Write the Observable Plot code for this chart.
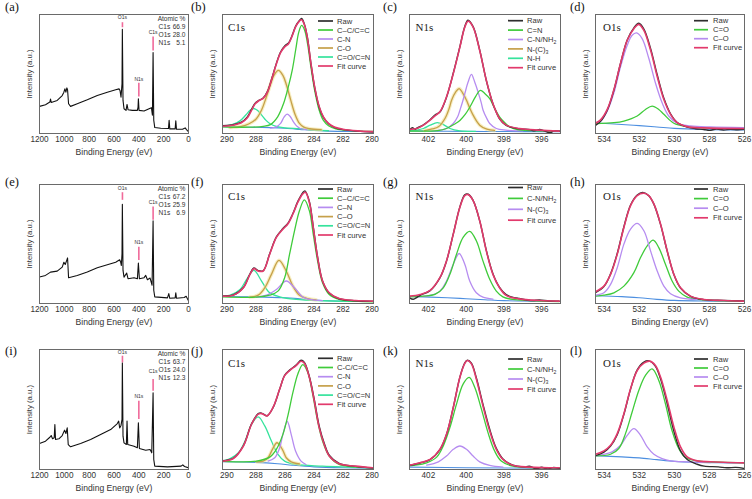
<!DOCTYPE html>
<html><head><meta charset="utf-8">
<script src="https://cdn.jsdelivr.net/npm/d3@7"></script>
<script src="https://cdn.jsdelivr.net/npm/@observablehq/plot@0.6"></script>
<style>
body{margin:0;background:#fff;}
#fig{position:relative;width:752px;height:499px;overflow:hidden;background:#fff;}
#fig svg{position:absolute;overflow:visible;}
</style></head><body><div id="fig"></div>
<script>
// ---------- tick labels ----------
const surveyTicks = [1200, 1000, 800, 600, 400, 200, 0];
const c1sTicks = [290, 288, 286, 284, 282, 280];
const n1sTicks = [402, 400, 398, 396];
const o1sTicks = [534, 532, 530, 528, 526];

// ---------- survey spectra [binding energy, intensity] ----------
const a_survey = [[1200,22.8],[1151.6,24.2],[1116.6,26.4],[1111.2,28.9],[1105.8,26.1],[1057.4,27.8],[1017,31.9],[1003.6,34.7],[995.5,37.5],[987.4,34.7],[979.4,38.3],[974,36.7],[965.9,25],[949.8,22.8],[895.9,25],[815.2,28.3],[734.5,31.9],[653.8,34.7],[586.5,36.7],[559.6,37.5],[551.6,36.1],[543.5,30.6],[535.4,41.7],[532.7,87.5],[527.4,27.8],[519.3,20.8],[503.1,19.4],[495,24.4],[487,20],[452,19.4],[411.7,19.4],[406.3,22.2],[403.6,29.2],[398.3,19.4],[357.8,18.9],[317.5,20.8],[298.6,21.7],[290.6,15.3],[285.2,68.1],[279.8,11.1],[271.7,5],[223.3,4.4],[161.4,4.2],[156,11.1],[150.7,3.9],[107.6,3.9],[102.3,10.6],[96.8,3.6],[48.4,3.6],[27,4.7],[16.1,3.3],[0,1.4]];
const e_survey = [[1200,22.2],[1151.6,23.6],[1111.2,26.4],[1057.4,27.2],[1017,30.6],[1003.6,34.7],[992.8,32.8],[979.4,36.7],[974,38.3],[965.9,21.7],[895.9,23.6],[815.2,26.4],[734.5,30],[653.8,32.5],[586.5,34.7],[554.3,36.7],[546.2,34.7],[540.8,31.9],[535.4,41.7],[532.7,83.3],[527.4,27.8],[519.3,22.2],[497.8,25.6],[487,20.8],[438.6,21.7],[411.7,20.8],[403.6,33.9],[395.6,20.8],[357.8,21.7],[344.4,23.6],[330.9,20],[309.4,21.4],[293.3,15.3],[285.2,69.4],[279.8,11.1],[271.7,5.6],[169.5,4.7],[158.7,8.3],[150.7,4.4],[107.6,4.7],[102.3,8.9],[96.8,4.4],[35,5],[18.8,6.1],[0,2.2]];
const i_survey = [[1200,21.7],[1151.6,23.6],[1116.6,26.9],[1105.8,28.3],[1095,25.6],[1081.6,26.4],[1076.2,37.5],[1070.8,25],[1043.9,25.6],[1017,28.3],[998.2,32.8],[987.4,30],[976.7,34.7],[968.6,20.8],[949.8,18.9],[869.1,21.7],[788.3,25],[707.6,29.2],[626.9,33.3],[573.1,38.3],[562.3,40.3],[554.3,34.7],[543.5,36.7],[535.4,41.7],[532.7,88.9],[527.4,27.8],[519.3,22.2],[500.4,20.8],[495,40.3],[489.7,20.8],[438.6,19.4],[411.7,18.1],[403.6,38.9],[395.6,17.5],[344.4,16.1],[309.4,16.7],[295.9,13.9],[285.2,63.9],[279.8,8.3],[271.7,2.8],[169.5,2.2],[59.4,2.8],[45.9,3.9],[32.4,2.5],[0,1.4]];

// survey peak markers: name, energy, marker bottom, marker top, label height
const a_markers = [["O1s",532,88.9,93.1,97.8],["C1s",285,69.4,81.1,84.7],["N1s",400,30.6,42.2,45.8]];
const e_markers = [["O1s",532,86.7,93.1,96.5],["C1s",285,70,81.1,84.7],["N1s",400,36.1,47.2,51.4]];
const i_markers = [["O1s",532,88.9,94.4,98],["C1s",285,65.3,75,81.9],["N1s",400,41.7,56.9,61.1]];

// atomic composition
const a_atomic = [["C1s","66.9"],["O1s","28.0"],["N1s","5.1"]];
const e_atomic = [["C1s","67.2"],["O1s","25.9"],["N1s","6.9"]];
const i_atomic = [["C1s","63.7"],["O1s","24.0"],["N1s","12.3"]];

// ---------- (b) C1s ----------
const b_base = [[290.3,5.8],[288.5,5.3],[287,4.9],[286,4.4],[285,3.5],[284,2.5],[283,2],[281,1.7],[279.9,1.6]];
const b_cc = [[290.3,5.5],[288.5,5.3],[287.5,6],[287,7.5],[286.5,14],[286.1,25],[285.75,40],[285.5,53],[285.25,71],[285.05,85],[284.85,90.8],[284.65,87],[284.45,76],[284.2,55],[283.95,36],[283.65,20],[283.35,11],[283,6.5],[282.5,3.8],[281.5,2.4],[279.9,1.7]];
const b_cn = [[287,4.6],[286.6,5.6],[286.3,8.5],[286.05,14],[285.85,16.2],[285.65,14.5],[285.4,9.5],[285.15,5.8],[284.9,4],[284.5,3.3]];
const b_co = [[289.8,5],[289,6],[288.5,8],[288,12],[287.6,20],[287.3,30],[287,41],[286.75,49],[286.45,53],[286.15,49],[285.9,41],[285.6,28],[285.3,16],[285,8.5],[284.7,5.3],[284.3,4],[283.5,3.2]];
const b_coo = [[290.3,6],[289.6,7.6],[289.1,10.6],[288.7,15.5],[288.4,19.5],[288.15,21],[287.9,19.5],[287.6,15.5],[287.3,11],[287,8],[286.6,6],[286,4.8],[285,4],[284,3],[283,2.3]];
const b_raw = [[290.3,6.6],[289.8,7],[289.5,7.6],[289,9.5],[288.6,13.8],[288.3,20.2],[288.05,25.5],[287.8,27.8],[287.5,29.8],[287.2,35.5],[286.9,46.5],[286.6,58.5],[286.3,68.5],[286,73.8],[285.75,76],[285.5,82.5],[285.25,90.5],[285,95],[284.85,96.6],[284.65,91.5],[284.45,80.5],[284.2,58],[283.95,38.5],[283.65,22.5],[283.35,13.5],[283,8.2],[282.6,5.2],[282,3.3],[281,2],[279.9,1.3]];
const b_fit = [[290.3,6.1],[289.5,7.2],[289,9],[288.6,13],[288.3,19.5],[288.05,25],[287.8,27.5],[287.5,29.5],[287.2,35],[286.9,46],[286.6,58],[286.3,68],[286,73],[285.75,75.5],[285.5,82],[285.25,90],[285,94.5],[284.85,95.5],[284.65,91],[284.45,80],[284.2,58],[283.95,39],[283.65,23],[283.35,14],[283,8.5],[282.6,5.5],[282,3.6],[281,2.2],[279.9,1.6]];

// ---------- (c) N1s ----------
const c_base = [[403,2.2],[401,1.9],[399,1.7],[397,1.6],[395,1.5]];
const c_cn = [[403,2],[401.5,2.5],[401.04,4.2],[400.6,8],[400.33,11],[400.05,16],[399.8,22.3],[399.5,31],[399.25,36.3],[399,33.5],[398.75,29.3],[398.5,21.5],[398.23,14],[397.95,9],[397.7,5.6],[397.3,3.3],[396.5,2.4],[395,2]];
const c_cnh = [[401.6,2.5],[401.04,4.2],[400.68,8.4],[400.45,14],[400.33,19.6],[400.2,26],[400.07,33.5],[399.9,43],[399.72,49.7],[399.55,43.5],[399.37,35],[399.2,26],[399.1,19.6],[398.9,12.5],[398.75,8.4],[398.4,4.2],[397.9,2.8],[397,2.2]];
const c_nc3 = [[402.2,2.5],[401.8,3.8],[401.47,5.6],[401.12,12.6],[400.9,21],[400.77,28],[400.55,35],[400.37,37.7],[400.18,34],[399.98,28],[399.8,21],[399.63,15.4],[399.28,7],[398.9,3.6],[398.5,2.6]];
const c_nh = [[403,2.4],[402.6,2.9],[402.26,4.2],[401.9,7],[401.53,9.2],[401.2,7.5],[400.86,4.2],[400.33,2.2],[399.5,1.8]];
const c_raw = [[403,2.9],[402.85,4.8],[402.7,3.6],[402.61,4.5],[402.26,7.3],[401.91,11.5],[401.65,15.5],[401.39,18],[401.04,30.5],[400.68,50.8],[400.33,73],[400.07,90],[399.9,95.2],[399.63,89.8],[399.28,70],[398.93,44.5],[398.58,25],[398.23,12.4],[397.88,6.8],[397.18,3.9],[396.6,3.3],[396.4,2.2],[396.1,3.5],[395.9,2.4],[395.55,0.6],[395.35,2.2],[395,1.8]];
const c_fit = [[403,3.4],[402.61,4.2],[402.26,7],[401.91,11.2],[401.65,14.8],[401.39,18.2],[401.04,30.7],[400.68,50.3],[400.33,72.6],[400.07,89.4],[399.89,94.4],[399.63,89.4],[399.28,69.8],[398.93,44.7],[398.58,25.1],[398.23,12.6],[397.88,7],[397.18,4.2],[396.12,2.8],[395.07,2]];

// ---------- (d) O1s ----------
const d_base = [[534.5,8.8],[533,7.6],[532,6.6],[531,5.5],[530,4.3],[528.5,3.4],[526,3]];
const d_coo = [[534.5,8.3],[533.45,9.1],[532.88,10.5],[532.12,14.7],[531.65,20.2],[531.27,23],[530.89,20.2],[530.6,16.1],[530.03,8.6],[529.27,5.8],[528.32,4.7],[526,4.2]];
const d_co = [[534.5,9.1],[534.21,10.5],[533.83,18.8],[533.45,34.1],[533.07,56.2],[532.69,74.2],[532.41,82.5],[532.16,84.5],[531.84,79.8],[531.46,63.2],[531.08,42.4],[530.7,25.8],[530.32,14.7],[529.84,8.6],[529.08,6.4],[527.94,5.5],[526,5]];
const d_raw = [[534.5,6.9],[534.21,10.2],[533.83,19.6],[533.45,36.5],[533.07,59],[532.69,78.6],[532.31,88.8],[532.03,92.6],[531.74,87.8],[531.36,71.5],[530.98,49.4],[530.6,29.6],[530.22,16.6],[529.84,9.3],[529.27,5.4],[528.8,4],[528.32,3.4],[528,2.6],[527.6,3.8],[527.2,3],[526.8,3.6],[526.4,3.1],[526,3.5]];
const d_fit = [[534.5,8.6],[534.21,11.4],[533.83,20.2],[533.45,36.8],[533.07,59],[532.69,78.4],[532.31,88.1],[532.03,91.7],[531.74,86.7],[531.36,70.1],[530.98,47.9],[530.6,28.5],[530.22,16.1],[529.84,9.1],[529.27,5.8],[528.32,4.7],[526,4.2]];

// ---------- (f) C1s ----------
const f_base = [[290.3,5.9],[288,5.6],[286,4.8],[285,4],[284,3],[283,2.3],[279.9,1.7]];
const f_cc = [[290.3,5.6],[287.95,5.4],[287.05,7],[286.48,10.4],[286.02,21.7],[285.68,41.4],[285.34,61.1],[285,78],[284.66,87],[284.32,78],[284.05,58.3],[283.75,35.8],[283.41,17.5],[282.95,7.6],[282.27,3.4],[281.14,2],[279.9,1.4]];
const f_cn = [[287.95,5.4],[287.27,7],[286.59,11.8],[285.91,18.9],[285.34,13.2],[284.77,5.4],[284.32,3.4],[283.41,2.5]];
const f_co = [[288.41,5.4],[287.84,7],[287.39,13.2],[286.93,24.5],[286.41,36.3],[285.91,27.3],[285.45,14.6],[285,7],[284.43,4.2],[283.86,3.1]];
const f_coo = [[290.3,5.9],[289.77,7],[289.09,11.8],[288.64,20.3],[288.14,27.9],[287.61,18.9],[287.05,9],[286.36,5.6],[285.23,3.4],[283.41,2.3],[279.9,1.7]];
const f_raw = [[290.3,6.4],[289.55,7.2],[288.86,13.5],[288.41,24.8],[288.14,29.8],[287.84,27.6],[287.5,27.5],[287.05,41.8],[286.59,56],[286.14,63],[285.8,67.3],[285.45,75.6],[285.11,85.8],[284.77,93.2],[284.62,94.6],[284.32,85.8],[284.05,64.5],[283.75,39],[283.41,19],[282.95,8.8],[282.27,4],[281.14,2.3],[279.9,1.8]];
const f_fit = [[290.3,6.2],[289.55,7],[288.86,13.2],[288.41,24.5],[288.14,29.3],[287.84,27.3],[287.5,27.3],[287.05,41.4],[286.59,55.5],[286.14,62.5],[285.8,66.8],[285.45,75.2],[285.11,85.1],[284.77,92.1],[284.59,93.5],[284.32,85.1],[284.05,63.9],[283.75,38.6],[283.41,18.9],[282.95,9],[282.27,4.2],[281.14,2.5],[279.9,2]];

// ---------- (g) N1s ----------
const g_base = [[403,5.9],[401,4.8],[400,4],[399,3.2],[398,2.4],[395,1.7]];
const g_cnh = [[403,5.6],[402.26,6.2],[401.65,7.6],[401.21,13.2],[400.86,24.5],[400.51,41.4],[400.16,55.5],[399.81,60.6],[399.46,52.7],[399.11,35.8],[398.75,20.3],[398.4,10.4],[398.05,5.6],[397.53,3.4],[396.65,2.5],[395.07,1.7]];
const g_nc3 = [[402.44,5.9],[401.91,6.8],[401.39,10.4],[401.04,18.9],[400.68,33],[400.37,42],[400.07,33],[399.81,18.9],[399.46,9],[399.11,5.4],[398.58,3.7]];
const g_raw = [[403,4.8],[402.8,3.6],[402.6,5.2],[402.44,6.9],[401.91,10.8],[401.39,21.5],[401.04,35.6],[400.68,58.5],[400.33,81.2],[400.07,91.4],[399.89,91.8],[399.63,86.6],[399.28,69.4],[398.93,44.6],[398.58,25],[398.23,13.5],[397.88,7.4],[397.6,5.6],[397.18,4.2],[396.5,2.5],[396.12,2.9],[395.6,2.1],[395.07,2]];
const g_fit = [[403,6.2],[402.44,7.6],[401.91,11],[401.39,21.7],[401.04,35.8],[400.68,58.3],[400.33,80.8],[400.07,90.7],[399.89,91.5],[399.63,86.5],[399.28,69.6],[398.93,44.2],[398.58,24.5],[398.23,13.2],[397.88,6.8],[397.18,3.9],[396.12,2.5],[395.07,2]];

// ---------- (h) O1s ----------
const h_base = [[534.5,6.5],[533,5.8],[532,4.8],[531,3.5],[530,2.6],[528,2],[526,1.7]];
const h_coo = [[534.5,6.2],[534.02,7],[533.45,9],[532.88,14.6],[532.31,25.9],[531.93,38.6],[531.55,48.5],[531.21,53.2],[530.89,47],[530.51,33],[530.13,18.9],[529.75,10.4],[529.27,5.4],[528.32,3.1],[526,2]];
const h_co = [[534.5,7],[534.02,9],[533.64,16.1],[533.26,30.1],[532.88,49.9],[532.5,62.5],[532.12,67.3],[531.74,61.1],[531.36,44.2],[530.98,27.3],[530.6,14.6],[530.22,8.2],[529.65,4.8],[528.7,3.4]];
const h_raw = [[534.5,9.2],[534.02,14.2],[533.64,24.9],[533.26,42],[532.88,64.5],[532.5,82.8],[532.12,91.2],[531.8,93.3],[531.46,90.6],[531.17,83.5],[530.79,66.5],[530.41,44],[530.03,24.4],[529.65,13],[529.08,6],[528.32,3.3],[527.18,2.6],[526,2.1]];
const h_fit = [[534.5,9.9],[534.02,14.6],[533.64,24.5],[533.26,41.4],[532.88,63.9],[532.5,82.3],[532.12,90.7],[531.74,92.7],[531.46,90.7],[531.17,83.7],[530.79,66.8],[530.41,44.2],[530.03,24.5],[529.65,13.2],[529.08,6.2],[528.32,3.4],[527.18,2.5],[526,2]];

// ---------- (j) C1s ----------
const j_base = [[290.3,6.4],[288,5.9],[286.5,4.8],[285.5,3.6],[284,2.2],[282,1.4],[279.9,1.1]];
const j_cc = [[290.3,6.8],[289.09,6.4],[287.95,7],[287.05,10.3],[286.59,16.8],[286.14,29.3],[285.8,44.7],[285.45,64.2],[285.11,79.6],[284.77,87.4],[284.43,81],[284.09,62.8],[283.75,40.5],[283.41,23.7],[282.95,11.2],[282.27,4.2],[281.14,2.2],[279.9,1.4]];
const j_cn = [[287.16,7],[286.7,9.8],[286.36,18.2],[286.14,29.3],[285.84,40],[285.57,29.3],[285.27,15.4],[284.89,7],[284.55,4.2]];
const j_co = [[287.95,6.4],[287.5,7],[287.16,9.8],[286.86,16.8],[286.55,22.3],[286.18,16.8],[285.91,9.8],[285.57,6.4],[285,4.7]];
const j_coo = [[290.3,7],[289.77,9.2],[289.2,14],[288.75,23.7],[288.3,37.7],[287.84,43.9],[287.39,36.3],[286.93,23.7],[286.48,12.6],[286.02,7],[285.23,4.2],[283.41,2.8],[279.9,1.4]];
const j_raw = [[290.3,7.3],[289.55,9.5],[288.86,19.8],[288.3,38],[287.84,46.5],[287.61,47],[287.23,44.8],[286.82,51.5],[286.36,67],[286.02,78.5],[285.68,82.8],[285.23,87],[284.89,91],[284.66,89.2],[284.32,77.5],[283.98,58.5],[283.64,36.2],[283.3,22.2],[282.95,12],[282.27,5.2],[281.14,2.6],[279.9,1.2]];
const j_fit = [[290.3,7],[289.55,9.2],[288.86,19.6],[288.3,37.7],[287.84,46.1],[287.61,46.6],[287.23,44.7],[286.82,51.7],[286.36,67],[286.02,78.2],[285.68,82.4],[285.23,86.6],[284.89,90.2],[284.66,88.5],[284.32,76.8],[283.98,57.3],[283.64,34.9],[283.3,21],[282.95,11.2],[282.27,4.7],[281.14,2.8],[279.9,1.4]];

// ---------- (k) N1s ----------
const k_base = [[403,2],[400,1.5],[395,0.9]];
const k_cnh = [[403,3],[402.79,3.4],[402.09,5.6],[401.56,10.3],[401.21,19.6],[400.86,34.9],[400.51,54.5],[400.16,71.2],[399.84,76.8],[399.54,68.4],[399.19,50.3],[398.84,30.7],[398.49,15.4],[398.14,7],[397.53,2.8],[395.07,1.4]];
const k_nc3 = [[402.09,3.6],[401.47,6.4],[401.04,11.2],[400.68,16.8],[400.33,19.6],[399.98,16.8],[399.63,11.2],[399.28,6.4],[398.75,3.4],[398.05,2]];
const k_raw = [[403,3.4],[402.44,5.4],[401.91,8.2],[401.39,16.5],[401.04,29.2],[400.68,51.8],[400.33,77],[400.07,88.8],[399.93,91],[399.72,88.6],[399.46,76.4],[399.11,54.5],[398.75,33.5],[398.4,17.6],[398.05,8.8],[397.53,3.6],[397,2.2],[396.6,2.6],[396.3,0.6],[396,1.9],[395.7,0.4],[395.4,1.6],[395.07,1]];
const k_fit = [[403,3.6],[402.44,5.6],[401.91,8.4],[401.39,16.8],[401.04,29.3],[400.68,51.7],[400.33,76.8],[400.07,88.5],[399.93,90.8],[399.72,88],[399.46,75.4],[399.11,53.1],[398.75,32.1],[398.4,16.8],[398.05,8.4],[397.53,3.6],[396.65,2],[395.07,1.4]];

// ---------- (l) O1s ----------
const l_base = [[534.5,11.4],[533,10.5],[532,9.7],[531,8.2],[530,6.8],[529,6],[527.5,5.6],[526,5.5]];
const l_coo = [[534.5,11.4],[533.64,12.7],[533.17,17.5],[532.79,29.9],[532.41,47.9],[532.03,65.9],[531.65,78.4],[531.27,83.9],[530.89,74.2],[530.51,54.8],[530.14,32.7],[529.75,17.5],[529.37,10],[528.7,7.2],[527.37,6.1],[526,5.5]];
const l_co = [[534.5,11.4],[534.02,12.7],[533.55,14.7],[533.07,20.2],[532.69,28.5],[532.31,34.1],[531.93,28.5],[531.55,18.8],[531.17,12.7],[530.7,9.1],[530.22,7.2],[529.27,6.4],[527.94,5.8]];
const l_raw = [[534.5,11.5],[534.02,14.5],[533.64,19.5],[533.26,29],[532.88,46],[532.5,67],[532.12,83],[531.74,89.5],[531.45,90.5],[531.08,86],[530.79,75.5],[530.41,55],[530.03,32],[529.65,15.5],[529.27,8.3],[528.7,4.4],[528.3,2.8],[527.5,2.2],[527,1.4],[526.5,1.8],[526,0.8]];
const l_fit = [[534.5,12.7],[534.02,15.5],[533.64,20.2],[533.26,29.9],[532.88,46.5],[532.5,67.3],[532.12,82.5],[531.74,88.6],[531.4,90.3],[531.08,86.7],[530.79,77],[530.41,57.6],[530.03,35.5],[529.65,18.8],[529.27,10.5],[528.7,7.2],[527.94,6.4],[526,5.5]];

// ---------- legend labels ----------
const c1sLegendB = ["Raw","C\u2013C/C=C","C-N","C-O","C=O/C=N","Fit curve"];
const c1sLegendF = ["Raw","C\u2013C/C=C","C\u2013N","C\u2013O","C=O/C=N","Fit curve"];
const c1sLegendJ = ["Raw","C-C/C=C","C-N","C-O","C=O/C=N","Fit curve"];
const n1sLegendC = ["Raw","C=N","C-N/NH|2","N-(C)|3","N-H","Fit curve"];
const n1sLegendGK = ["Raw","C-N/NH|2","N-(C)|3","Fit curve"];
const o1sLegend = ["Raw","C=O","C\u2013O","Fit curve"];

// ---------- styling ----------
const COL = {raw:"#2e2e2e", green:"#3fcb3a", purple:"#b68cf0", tan:"#c6a04a", mint:"#36e39c", fit:"#e23a6c", base:"#4d8fe0"};
const SANS = "'Liberation Sans', Arial, sans-serif";
const SERIF = "'Liberation Serif', 'Times New Roman', serif";
const cols = [{L:39,R:188},{L:222,R:373},{L:409,R:560},{L:595,R:744}];
const rows = [{T:14,B:133},{T:184,B:303},{T:349,B:469}];
const fig = document.getElementById("fig");

function drawPanel(p) {
  const c = cols[p.col], r = rows[p.row];
  const mL = 26, mR = 8, mT = 4, mB = 28;
  const W = c.R - c.L + mL + mR, H = r.B - r.T + mT + mB;
  const X = d => d[0], Y = d => d[1];
  const marks = [];
  for (const s of p.series) {
    if (s.halo) marks.push(Plot.line(s.data, {x: X, y: Y, stroke: s.halo, strokeWidth: 3.6, strokeOpacity: 0.6, curve: p.curve, clip: true}));
    marks.push(Plot.line(s.data, {x: X, y: Y, stroke: s.color, strokeWidth: s.w, curve: p.curve, clip: true}));
  }
  if (p.markers) {
    marks.push(Plot.ruleX(p.markers, {x: d => d[1], y1: d => d[2], y2: d => d[3], stroke: "#f06a9a", strokeWidth: 1.6}));
    marks.push(Plot.text(p.markers, {x: d => d[1], y: d => d[4], text: d => d[0], fontSize: 5, fill: "#333"}));
  }
  marks.push(Plot.frame({stroke: "#6a6a6a", strokeWidth: 1}));
  marks.push(Plot.axisX({ticks: p.ticks, tickSize: 0, tickPadding: 2.5, tickFormat: d => String(d), label: null, fontSize: 8.2}));
  marks.push(Plot.text(["Binding Energy (eV)"], {text: d => d, frameAnchor: "bottom", dy: 19, lineAnchor: "middle", textAnchor: "middle", fontSize: 8.6, fill: "#333"}));
  marks.push(Plot.text(["Intensity (a.u.)"], {text: d => d, frameAnchor: "left", dx: -10.5, rotate: -90, textAnchor: "middle", lineAnchor: "middle", fontSize: 7.8, fill: "#333"}));
  const svg = Plot.plot({
    width: W, height: H, marginLeft: mL, marginRight: mR, marginTop: mT, marginBottom: mB,
    x: {domain: p.xdomain}, y: {domain: [0, 100], axis: null},
    style: {background: "transparent", fontFamily: SANS, fontSize: "8px", color: "#333", overflow: "visible"},
    marks
  });
  svg.style.position = "absolute";
  svg.style.left = (c.L - mL) + "px";
  svg.style.top = (r.T - mT) + "px";
  svg.style.maxWidth = "none";
  fig.appendChild(svg);
}

function S(data, color, w, halo) { return {data, color, w: w || 1.3, halo}; }

const compSets = {
  c1s: (base, cc, cn, co, coo, raw, fit) => [S(base, COL.base, 1.1), S(coo, COL.mint), S(co, COL.tan, 1.3, "#f1e29a"), S(cn, COL.purple), S(cc, COL.green), S(raw, COL.raw, 1.4), S(fit, COL.fit, 1.6)]
};

const panels = [
  {col:0,row:0,xdomain:[1200,0],ticks:surveyTicks,curve:"linear",series:[S(a_survey,"#111",1.1)],markers:a_markers},
  {col:0,row:1,xdomain:[1200,0],ticks:surveyTicks,curve:"linear",series:[S(e_survey,"#111",1.1)],markers:e_markers},
  {col:0,row:2,xdomain:[1200,0],ticks:surveyTicks,curve:"linear",series:[S(i_survey,"#111",1.1)],markers:i_markers},
  {col:1,row:0,xdomain:[290.3,279.9],ticks:c1sTicks,curve:"catmull-rom",series:compSets.c1s(b_base,b_cc,b_cn,b_co,b_coo,b_raw,b_fit)},
  {col:1,row:1,xdomain:[290.3,279.9],ticks:c1sTicks,curve:"catmull-rom",series:compSets.c1s(f_base,f_cc,f_cn,f_co,f_coo,f_raw,f_fit)},
  {col:1,row:2,xdomain:[290.3,279.9],ticks:c1sTicks,curve:"catmull-rom",series:compSets.c1s(j_base,j_cc,j_cn,j_co,j_coo,j_raw,j_fit)},
  {col:2,row:0,xdomain:[403,395],ticks:n1sTicks,curve:"catmull-rom",series:[S(c_base,COL.base,1.1),S(c_nh,COL.mint),S(c_nc3,COL.tan,1.3,"#f1e29a"),S(c_cnh,COL.purple),S(c_cn,COL.green),S(c_raw,COL.raw,1.4),S(c_fit,COL.fit,1.6)]},
  {col:2,row:1,xdomain:[403,395],ticks:n1sTicks,curve:"catmull-rom",series:[S(g_base,COL.base,1.1),S(g_nc3,COL.purple),S(g_cnh,COL.green),S(g_raw,COL.raw,1.4),S(g_fit,COL.fit,1.6)]},
  {col:2,row:2,xdomain:[403,395],ticks:n1sTicks,curve:"catmull-rom",series:[S(k_base,COL.base,1.1),S(k_nc3,COL.purple),S(k_cnh,COL.green),S(k_raw,COL.raw,1.4),S(k_fit,COL.fit,1.6)]},
  {col:3,row:0,xdomain:[534.5,526],ticks:o1sTicks,curve:"catmull-rom",series:[S(d_base,COL.base,1.1),S(d_coo,COL.green),S(d_co,COL.purple),S(d_raw,COL.raw,1.4),S(d_fit,COL.fit,1.6)]},
  {col:3,row:1,xdomain:[534.5,526],ticks:o1sTicks,curve:"catmull-rom",series:[S(h_base,COL.base,1.1),S(h_coo,COL.green),S(h_co,COL.purple),S(h_raw,COL.raw,1.4),S(h_fit,COL.fit,1.6)]},
  {col:3,row:2,xdomain:[534.5,526],ticks:o1sTicks,curve:"catmull-rom",series:[S(l_base,COL.base,1.1),S(l_co,COL.purple),S(l_coo,COL.green),S(l_raw,COL.raw,1.4),S(l_fit,COL.fit,1.6)]}
];
panels.forEach(drawPanel);

// ---------- overlay: panel letters, legends, labels ----------
const ov = d3.select(fig).append("svg").attr("width", 752).attr("height", 499)
  .style("left", "0px").style("top", "0px").style("pointer-events", "none");

const letters = [["(a)",5,10.5],["(b)",191,10.5],["(c)",383,10.5],["(d)",570,10.5],
                 ["(e)",5,185.5],["(f)",191,185.5],["(g)",383,185.5],["(h)",570,185.5],
                 ["(i)",5,354.5],["(j)",191,354.5],["(k)",383,354.5],["(l)",570,354.5]];
ov.append("g").attr("font-family", SERIF).attr("font-size", 12.5).attr("fill", "#111")
  .selectAll("text").data(letters).join("text").attr("x", d => d[1]).attr("y", d => d[2]).text(d => d[0]);

const coreLabels = [["C1s",1,0,17],["N1s",2,0,16.5],["O1s",3,0,16.5],["C1s",1,1,16],["N1s",2,1,16],["O1s",3,1,16],["C1s",1,2,17.5],["N1s",2,2,17.5],["O1s",3,2,17.5]];
const coreDx = [0, 6, 6.5, 8];
ov.append("g").attr("font-family", SERIF).attr("font-size", 11).attr("fill", "#222")
  .selectAll("text").data(coreLabels).join("text")
  .attr("x", d => cols[d[1]].L + coreDx[d[1]]).attr("y", d => rows[d[2]].T + d[3]).text(d => d[0]);

function legend(col, row, labels, colors, y0, dy) {
  const c = cols[col], r = rows[row];
  const lx = col === 1 ? [55, 40, 36] : col === 2 ? [52, 37, 33] : [50, 36, 31];
  const g = ov.append("g").attr("font-family", SANS).attr("font-size", 7.6).attr("fill", "#333");
  labels.forEach((lab, i) => {
    const y = r.T + y0 + i * dy;
    g.append("line").attr("x1", c.R - lx[0]).attr("x2", c.R - lx[1]).attr("y1", y).attr("y2", y)
      .attr("stroke", colors[i]).attr("stroke-width", 1.7);
    const parts = lab.split("|");
    const t = g.append("text").attr("x", c.R - lx[2]).attr("y", y).attr("dy", "0.35em");
    t.append("tspan").text(parts[0]);
    if (parts[1]) t.append("tspan").text(parts[1]).attr("font-size", 5.2).attr("dy", 2);
  });
}
const c1sColors = [COL.raw, COL.green, COL.purple, COL.tan, COL.mint, COL.fit];
legend(1, 0, c1sLegendB, c1sColors, 7, 9);
legend(1, 1, c1sLegendF, c1sColors, 5, 9.2);
legend(1, 2, c1sLegendJ, c1sColors, 9.3, 9.2);
legend(2, 0, n1sLegendC, [COL.raw, COL.green, COL.purple, COL.tan, COL.mint, COL.fit], 6.7, 9.4);
legend(2, 1, n1sLegendGK, [COL.raw, COL.green, COL.purple, COL.fit], 3.5, 10.9);
legend(2, 2, n1sLegendGK, [COL.raw, COL.green, COL.purple, COL.fit], 10, 10);
legend(3, 0, o1sLegend, [COL.raw, COL.green, COL.purple, COL.fit], 6.7, 9);
legend(3, 1, o1sLegend, [COL.raw, COL.green, COL.purple, COL.fit], 5, 9.6);
legend(3, 2, o1sLegend, [COL.raw, COL.green, COL.purple, COL.fit], 10, 9);

function atomic(row, vals) {
  const c = cols[0], r = rows[row];
  const g = ov.append("g").attr("font-family", SANS).attr("font-size", 6.6).attr("fill", "#333");
  g.append("text").attr("x", c.R - 2.5).attr("y", r.T + 5).attr("dy", "0.35em").attr("text-anchor", "end").text("Atomic %");
  vals.forEach((v, i) => {
    const y = r.T + 13 + i * 8;
    g.append("text").attr("x", c.R - 29.5).attr("y", y).attr("dy", "0.35em").text(v[0]);
    g.append("text").attr("x", c.R - 2.5).attr("y", y).attr("dy", "0.35em").attr("text-anchor", "end").text(v[1]);
  });
}
atomic(0, a_atomic);
atomic(1, e_atomic);
atomic(2, i_atomic);
</script></body></html>
